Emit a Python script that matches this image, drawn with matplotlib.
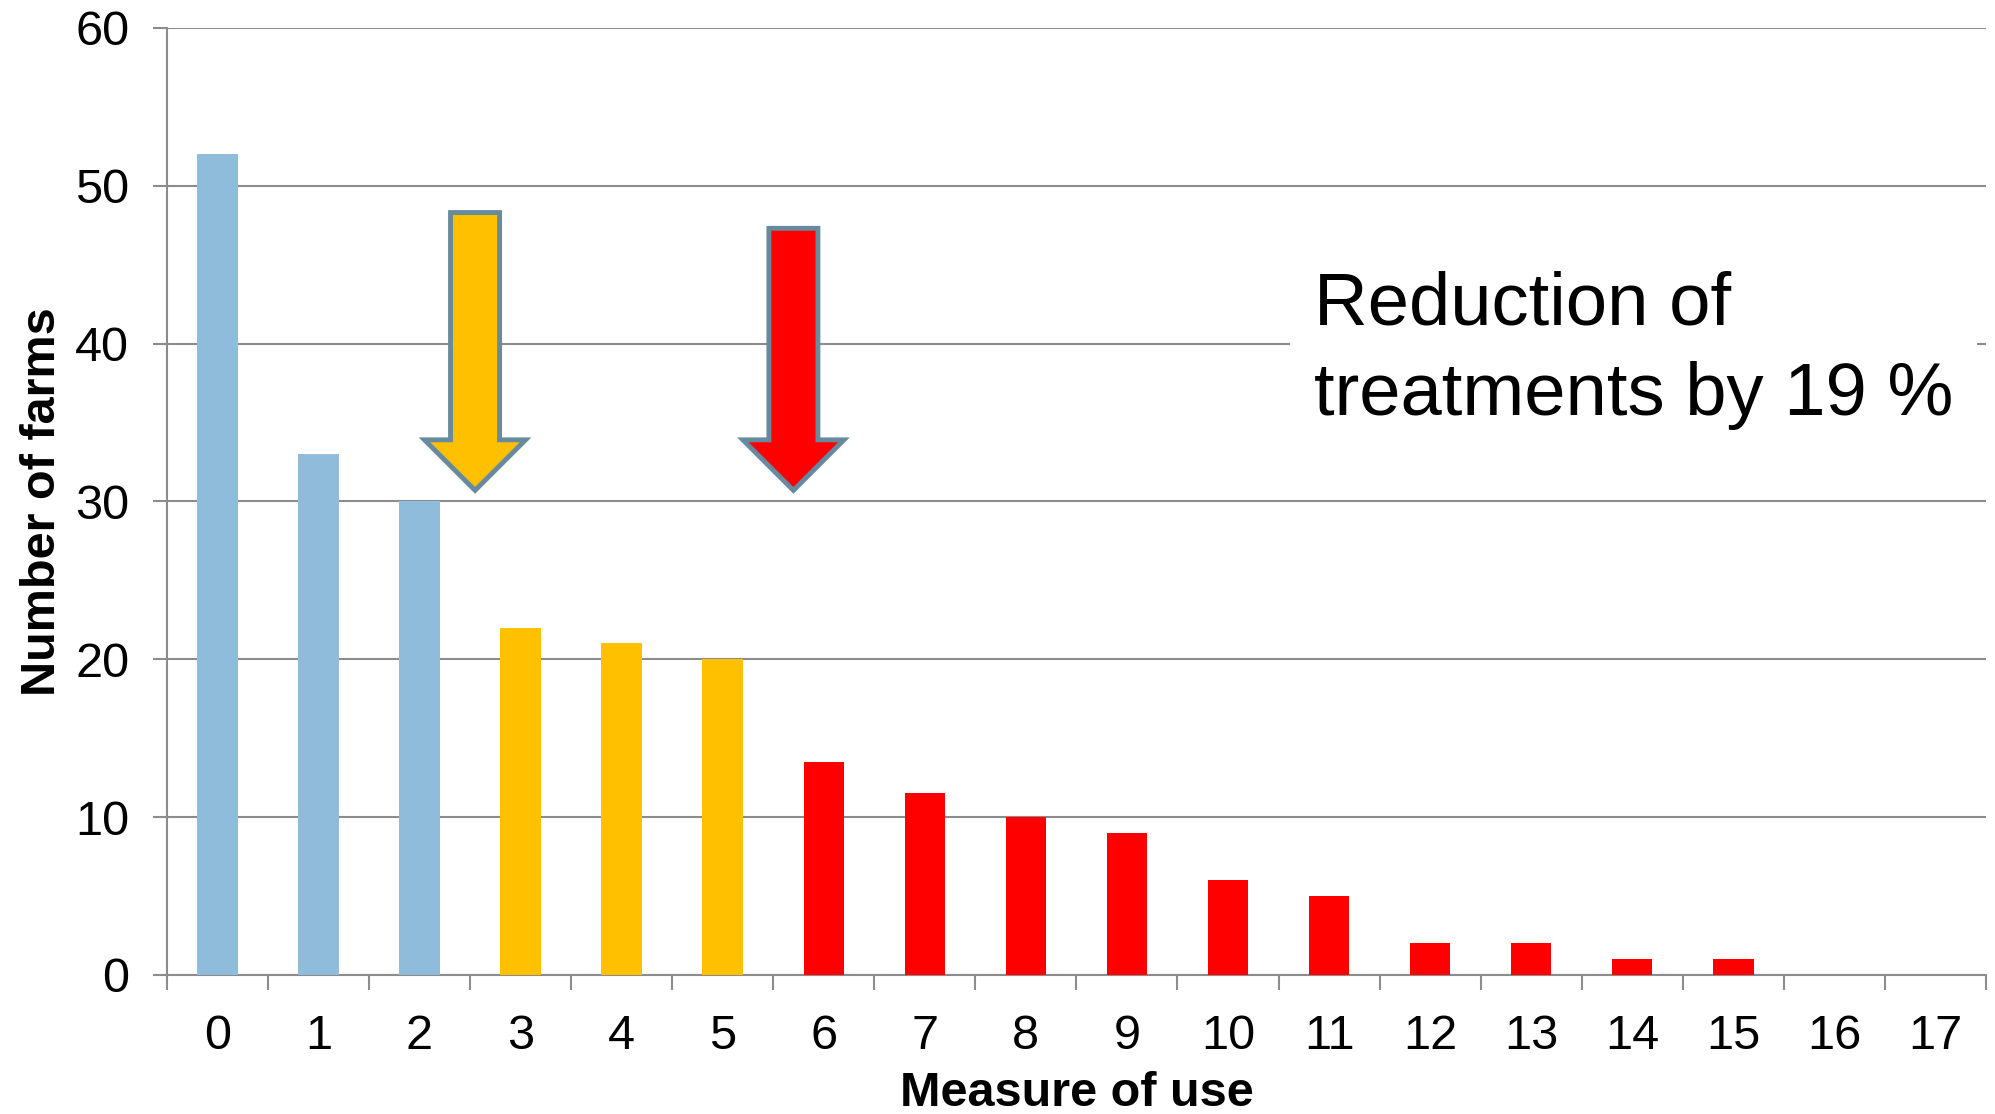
import matplotlib
matplotlib.use("Agg")
import matplotlib.pyplot as plt
from matplotlib.patches import FancyArrow
import numpy as np

plt.rcParams['font.family'] = ['Liberation Sans', 'DejaVu Sans']

categories = [str(i) for i in range(18)]
values = [52, 33, 30, 22, 21, 20, 13.5, 11.5, 10, 9, 6, 5, 2, 2, 1, 1, 0, 0]
groups = ['low'] * 3 + ['mid'] * 3 + ['high'] * 12
group_colors = {'low': '#8EBCDA', 'mid': '#FFC000', 'high': '#FF0000'}

# arrows: (x, top, tip, fill)
arrow_x = [2.55, 5.7]
arrow_top = [48.3, 47.3]
arrow_tip = [30.7, 30.7]
arrow_colors = ['#FFC000', '#FF0000']

annotation = "Reduction of\ntreatments by 19 %"

fig = plt.figure(figsize=(19.95, 11.14), dpi=100)
ax = fig.add_axes([0.0836, 0.1248, 0.9119, 0.8502])

x = np.arange(len(categories))
ax.bar(x, values, width=0.4, color=[group_colors[g] for g in groups], zorder=3)

ax.set_xlim(-0.5, len(categories) - 0.5)
ax.set_ylim(0, 60)
ax.set_yticks(np.arange(0, 61, 10))
ax.set_xticks(x)
ax.set_xticklabels(categories)
ax.set_xticks(np.arange(-0.5, len(categories)), minor=True)

grid_c = '#8C8C8C'
ax.yaxis.grid(True, color=grid_c, linewidth=1.5, zorder=0)
ax.set_axisbelow(True)
for s in ['top', 'right']:
    ax.spines[s].set_visible(False)
for s in ['left', 'bottom']:
    ax.spines[s].set_color(grid_c)
    ax.spines[s].set_linewidth(1.5)

ax.tick_params(axis='y', which='major', length=10, width=1.5, color=grid_c,
               labelsize=35, pad=17)
ax.tick_params(axis='x', which='major', length=0, labelsize=35, pad=28)
ax.tick_params(axis='x', which='minor', length=11, width=1.5, color=grid_c)

ax.set_xlabel("Measure of use", fontsize=35, fontweight='bold')
ax.set_ylabel("Number of farms", fontsize=35, fontweight='bold')
ax.xaxis.set_label_coords(0.5, -0.101)
ax.yaxis.set_label_coords(-0.056, 0.5)

for xa, top, tip, col in zip(arrow_x, arrow_top, arrow_tip, arrow_colors):
    arr = FancyArrow(xa, top, 0, tip - top, width=0.485, head_width=1.0,
                     head_length=3.2, length_includes_head=True,
                     facecolor=col, edgecolor='#668A9E', linewidth=3.5,
                     zorder=5, joinstyle='miter')
    ax.add_patch(arr)

ax.text(10.85, 39.6, annotation, fontsize=53.5, va='center', ha='left',
        linespacing=1.4, zorder=6,
        bbox=dict(boxstyle='square,pad=0.32', facecolor='white', edgecolor='none'))

fig.savefig("out.png", dpi=100)
